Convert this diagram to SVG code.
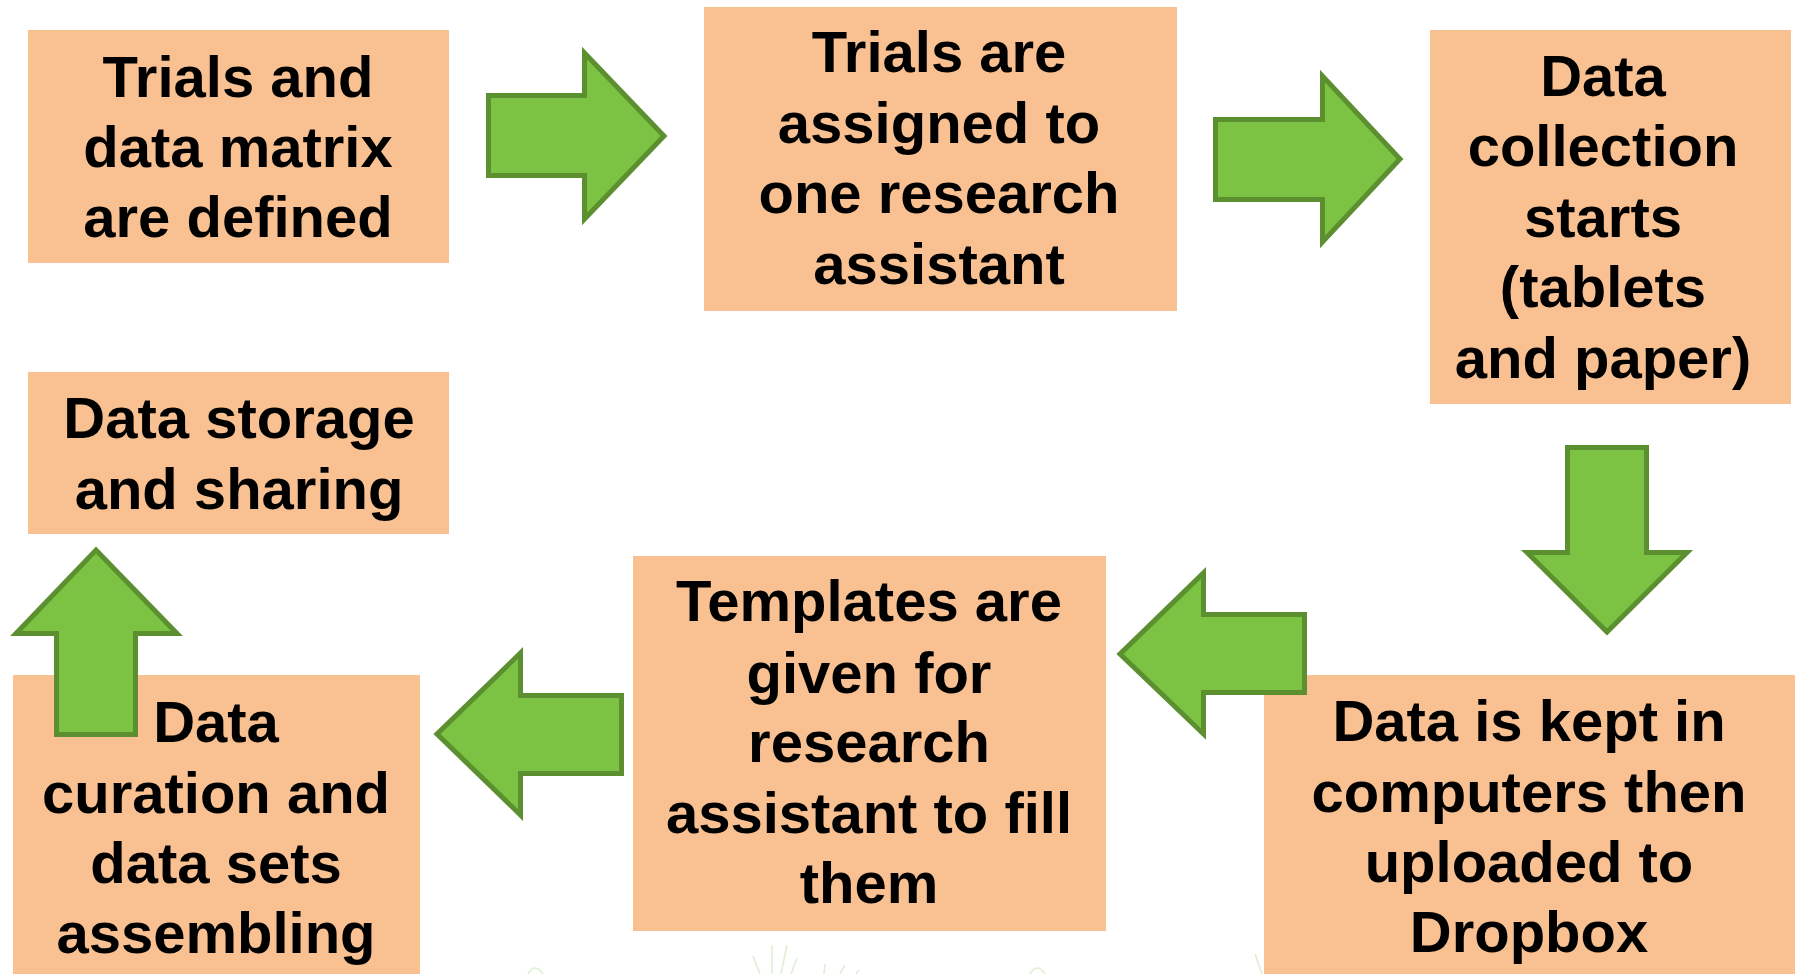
<svg xmlns="http://www.w3.org/2000/svg" width="1795" height="974" viewBox="0 0 1795 974">
  <defs>
    <style>
      .box { fill: #F9C191; }
      .lbl { font-family: "Liberation Sans", Arial, sans-serif; font-weight: bold; font-size: 58px; fill: #000; text-anchor: middle; }
      .arrow { fill: #7CC243; stroke: #5B8F2F; stroke-width: 5; stroke-linejoin: miter; }
      .deco { fill: none; stroke: #DCEFD2; stroke-width: 1.5; }
    </style>
  </defs>
  <rect x="0" y="0" width="1795" height="974" fill="#FFFFFF"/>

  <!-- faint grass decoration along the bottom edge -->
  <g id="decoration">
    <path class="deco" d="M 528 974 Q 535 962 543 974"/>
    <path class="deco" d="M 753 956 L 760 974 M 772 945 L 772 974 M 787 945 L 781 974 M 797 958 L 791 974 M 825 964 L 824 974 M 845 965 L 840 974 M 859 970 L 856 974"/>
    <path class="deco" d="M 1030 974 Q 1037 962 1045 974"/>
    <path class="deco" d="M 1255 954 L 1262 974"/>
  </g>

  <g id="node-define">
    <rect class="box" x="28" y="30" width="421" height="233"/>
    <text class="lbl" x="238" y="97">Trials and</text>
    <text class="lbl" x="238" y="167">data matrix</text>
    <text class="lbl" x="238" y="237">are defined</text>
  </g>

  <g id="node-assign">
    <rect class="box" x="704" y="7" width="473" height="304"/>
    <text class="lbl" x="939" y="72">Trials are</text>
    <text class="lbl" x="939" y="143">assigned to</text>
    <text class="lbl" x="939" y="213">one research</text>
    <text class="lbl" x="939" y="284">assistant</text>
  </g>

  <g id="node-collect">
    <rect class="box" x="1430" y="30" width="361" height="374"/>
    <text class="lbl" x="1603" y="96">Data</text>
    <text class="lbl" x="1603" y="166">collection</text>
    <text class="lbl" x="1603" y="237">starts</text>
    <text class="lbl" x="1603" y="307">(tablets</text>
    <text class="lbl" x="1603" y="378">and paper)</text>
  </g>

  <g id="node-upload">
    <rect class="box" x="1264" y="675" width="531" height="300"/>
    <text class="lbl" x="1529" y="741">Data is kept in</text>
    <text class="lbl" x="1529" y="812">computers then</text>
    <text class="lbl" x="1529" y="882">uploaded to</text>
    <text class="lbl" x="1529" y="952">Dropbox</text>
  </g>

  <g id="node-templates">
    <rect class="box" x="633" y="556" width="473" height="375"/>
    <text class="lbl" x="869" y="621">Templates are</text>
    <text class="lbl" x="869" y="693">given for</text>
    <text class="lbl" x="869" y="762">research</text>
    <text class="lbl" x="869" y="833">assistant to fill</text>
    <text class="lbl" x="869" y="903">them</text>
  </g>

  <g id="node-curation">
    <rect class="box" x="13" y="675" width="407" height="300"/>
    <text class="lbl" x="216" y="742">Data</text>
    <text class="lbl" x="216" y="813">curation and</text>
    <text class="lbl" x="216" y="883">data sets</text>
    <text class="lbl" x="216" y="953">assembling</text>
  </g>

  <g id="node-storage">
    <rect class="box" x="28" y="372" width="421" height="162"/>
    <text class="lbl" x="239" y="438">Data storage</text>
    <text class="lbl" x="239" y="509">and sharing</text>
  </g>

  <!-- block arrows between the steps -->
  <g id="connectors">
    <path class="arrow" d="M 488.5 95.5 H 584.5 V 53 L 664 136 L 584.5 219 V 175.5 H 488.5 Z"/>
    <path class="arrow" d="M 1215.5 119.5 H 1322.5 V 76 L 1400 159 L 1322.5 242 V 199.5 H 1215.5 Z"/>
    <path class="arrow" d="M 1567.5 447.5 H 1646.5 V 552.5 H 1687 L 1607 632 L 1527 552.5 H 1567.5 Z"/>
    <path class="arrow" d="M 1304.5 614.5 V 692.5 H 1203.5 V 734 L 1120 654 L 1203.5 573 V 614.5 Z"/>
    <path class="arrow" d="M 621.5 695.5 V 773.5 H 520.5 V 815 L 437 734 L 520.5 653 V 695.5 Z"/>
    <path class="arrow" d="M 56.5 734.5 V 633.5 H 16 L 96 550 L 177 633.5 H 135.5 V 734.5 Z"/>
  </g>
</svg>
